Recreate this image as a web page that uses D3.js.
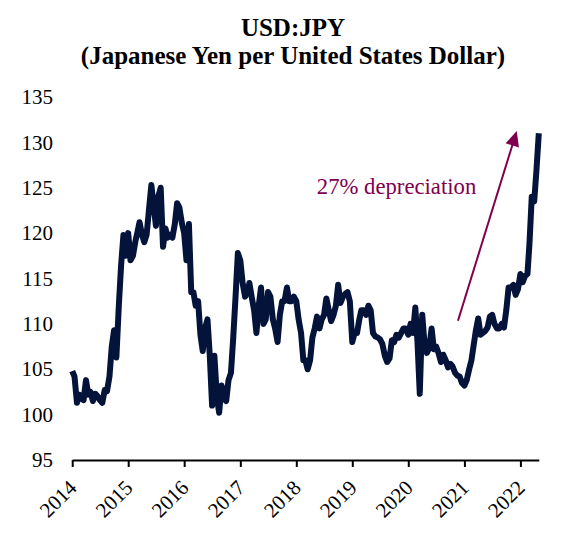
<!DOCTYPE html>
<html>
<head>
<meta charset="utf-8">
<script src="https://cdn.jsdelivr.net/npm/d3@7"></script>
<style>
body { margin: 0; background: #ffffff; }
</style>
</head>
<body>
<script>
var g_width = 579
var g_height = 542
var g_font = "'Liberation Serif', 'Times New Roman', serif"

// USD:JPY, one value on the 1st and 16th of each month
var fx2014 = [104.8, 104.2, 101.3, 102.2, 101.8, 101.6, 103.8, 102.2, 102.5, 101.5, 102.3, 102.0,
              101.6, 101.3, 102.7, 102.6, 104.2, 107.5, 109.3, 106.3, 112.0, 116.5, 119.8, 117.5]
var fx2015 = [120.0, 117.0, 117.5, 119.0, 120.0, 121.2, 119.8, 119.0, 119.8, 122.5, 125.3, 123.0,
              120.8, 124.0, 125.0, 118.5, 120.5, 119.5, 119.8, 119.5, 121.0, 123.3, 122.8, 121.2]
var fx2016 = [120.0, 117.0, 121.0, 113.5, 113.5, 112.0, 112.5, 108.8, 107.0, 109.5, 110.5, 106.5,
              101.0, 106.5, 102.0, 100.2, 103.2, 101.8, 101.5, 103.8, 104.6, 108.5, 113.0, 117.8]
var fx2017 = [117.0, 114.5, 113.0, 113.5, 114.5, 113.0, 111.5, 109.0, 112.0, 114.0, 110.0, 110.5,
              113.5, 113.0, 110.5, 109.5, 108.0, 111.0, 112.5, 112.5, 114.0, 112.5, 112.5, 113.0]
var fx2018 = [112.5, 110.5, 109.0, 106.0, 106.0, 105.0, 106.0, 108.5, 109.5, 110.8, 109.5, 110.5,
              111.0, 112.8, 111.5, 110.3, 111.0, 112.0, 114.3, 112.3, 113.0, 113.3, 113.5, 112.5]
var fx2019 = [108.0, 109.0, 109.0, 110.5, 111.5, 111.5, 111.0, 112.0, 111.5, 109.0, 108.6, 108.5,
              108.3, 107.8, 106.5, 105.8, 106.2, 108.2, 108.0, 108.8, 108.5, 109.0, 109.5, 109.5]
var fx2020 = [108.8, 110.0, 109.0, 111.8, 108.0, 102.3, 111.0, 107.8, 106.8, 107.3, 109.5, 107.2,
              107.5, 106.8, 105.8, 106.6, 106.0, 105.2, 105.6, 105.3, 104.6, 104.3, 104.2, 103.5]
var fx2021 = [103.2, 103.8, 105.0, 106.0, 107.5, 109.2, 110.6, 108.8, 109.0, 109.2, 109.6, 110.8,
              111.0, 110.0, 109.5, 109.5, 110.0, 109.6, 111.5, 114.0, 114.0, 114.3, 113.2, 113.8]
var fx2022 = [115.5, 114.6, 115.3, 115.5, 118.8, 124.0, 123.5, 127.0, 131.0]

var years = [2014, 2015, 2016, 2017, 2018, 2019, 2020, 2021, 2022]
var yTicks = [95, 100, 105, 110, 115, 120, 125, 130, 135]

var titleLines = ["USD:JPY", "(Japanese Yen per United States Dollar)"]
var noteText = "27% depreciation"
var notePos = { date: new Date(2018, 4, 15), value: 124.3 }
var arrowFrom = { date: new Date(2020, 10, 20), value: 110.35 }
var arrowTo = { date: new Date(2021, 11, 8), value: 131.25 }

var series = [fx2014, fx2015, fx2016, fx2017, fx2018, fx2019, fx2020, fx2021, fx2022]
var data = []
years.forEach(function(yr, k) {
    series[k].forEach(function(v, i) {
        data.push({ date: new Date(yr, Math.floor(i / 2), i % 2 ? 16 : 1), value: v })
    })
})

var svg = d3.select("body")
    .append("svg")
    .attr("width", g_width)
    .attr("height", g_height)
    .style("background-color", "white");

// years are laid out 2014 -> 72px, 2022 -> 520px
var start = new Date(2014, 0, 1)
var lastDate = data[data.length - 1].date
var xYear = d3.scaleTime().domain([start, new Date(2022, 0, 1)]).range([72.2, 520.4]);
var xScale = d3.scaleTime().domain([start, lastDate]).range([72.2, xYear(lastDate)]);
var yScale = d3.scaleLinear().domain([95, 135]).range([460, 97]);

// title
svg.selectAll(".title")
    .data(titleLines)
    .enter().append("text")
    .attr("class", "title")
    .attr("x", 293)
    .attr("y", function(d, i) { return 36 + i * 28 })
    .attr("text-anchor", "middle")
    .style("font-family", g_font)
    .style("font-weight", "bold")
    .style("font-size", "25px")
    .text(function(d) { return d });

// y axis, labels only
var yAxisPlot = svg.append("g")
    .attr("transform", "translate(56,0)")
    .call(d3.axisLeft(yScale).tickValues(yTicks).tickSize(0).tickPadding(3));
yAxisPlot.select(".domain").remove();
yAxisPlot.selectAll("text")
    .style("font-family", g_font)
    .style("font-size", "21px")
    .attr("fill", "#000");

// x axis
var xAxis = d3.axisBottom(xScale)
    .tickValues(years.map(function(y) { return new Date(y, 0, 1) }))
    .tickFormat(d3.timeFormat("%Y"))
    .tickSize(7)
    .tickSizeOuter(0);

var xAxisPlot = svg.append("g")
    .attr("transform", "translate(0,460)")
    .call(xAxis);
xAxisPlot.select(".domain").attr("stroke", "#000").attr("stroke-width", 2);
xAxisPlot.selectAll(".tick line").attr("stroke", "#000").attr("stroke-width", 2);
xAxisPlot.selectAll("text")
    .attr("x", 0)
    .attr("y", 0)
    .attr("dy", null)
    .attr("text-anchor", "end")
    .attr("transform", "translate(5.3,29) rotate(-45)")
    .attr("fill", "#000")
    .style("font-family", g_font)
    .style("font-size", "21px");

// the series
var line = d3.line()
    .x(function(d) { return xScale(d.date) })
    .y(function(d) { return yScale(d.value) });

svg.append("path")
    .datum(data)
    .attr("d", line)
    .attr("fill", "none")
    .attr("stroke", "#03133a")
    .attr("stroke-width", 6)
    .attr("stroke-linejoin", "round");

// annotation
var noteColor = "#800050"
svg.append("text")
    .attr("x", xScale(notePos.date))
    .attr("y", yScale(notePos.value))
    .attr("fill", noteColor)
    .style("font-family", g_font)
    .style("font-size", "22.7px")
    .text(noteText);

var p0 = [xScale(arrowFrom.date), yScale(arrowFrom.value)]
var p1 = [xScale(arrowTo.date), yScale(arrowTo.value)]
var len = Math.hypot(p1[0] - p0[0], p1[1] - p0[1])
var ux = (p1[0] - p0[0]) / len, uy = (p1[1] - p0[1]) / len
var headLen = 15, headHalf = 7
var base = [p1[0] - ux * headLen, p1[1] - uy * headLen]

svg.append("line")
    .attr("x1", p0[0])
    .attr("y1", p0[1])
    .attr("x2", base[0] + ux * 2)
    .attr("y2", base[1] + uy * 2)
    .attr("stroke", noteColor)
    .attr("stroke-width", 2);

svg.append("path")
    .attr("d", "M" + p1[0] + "," + p1[1] +
        "L" + (base[0] - uy * headHalf) + "," + (base[1] + ux * headHalf) +
        "L" + (base[0] + uy * headHalf) + "," + (base[1] - ux * headHalf) + "Z")
    .attr("fill", noteColor);
</script>
</body>
</html>
